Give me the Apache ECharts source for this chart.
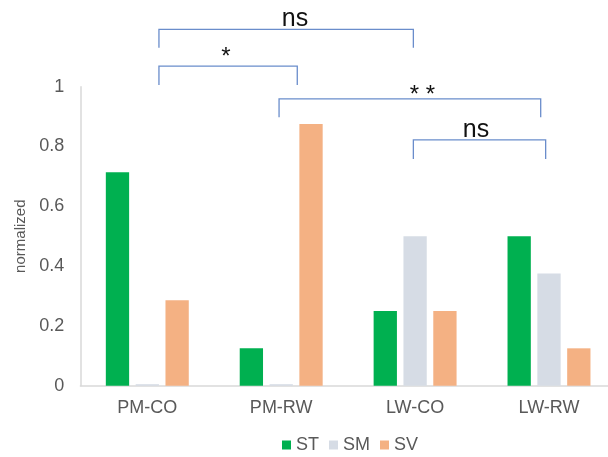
<!DOCTYPE html>
<html>
<head>
<meta charset="utf-8">
<script src="https://cdn.jsdelivr.net/npm/echarts@6/dist/echarts.min.js"></script>
<style>
html,body{margin:0;padding:0;background:#fff;}
#c{width:608px;height:457px;}
</style>
</head>
<body>
<div id="c"></div>
<script>
// ---- data ----
const categories = ['PM-CO', 'PM-RW', 'LW-CO', 'LW-RW'];
const seriesNames = ['ST', 'SM', 'SV'];
const stValues = [0.714, 0.125, 0.25, 0.5];
const smValues = [0.005, 0.005, 0.5, 0.375];
const svValues = [0.286, 0.875, 0.25, 0.125];
const yTicks = [0, 0.2, 0.4, 0.6, 0.8, 1];

// significance brackets (category-axis units for x, value-axis units for y)
const bracketLabels = ['ns', '*', '* *', 'ns'];
const bracketFrom = [0.087, 0.087, 0.984, 1.987];
const bracketTo = [1.987, 1.12, 2.938, 2.975];
const bracketLevel = [1.192, 1.069, 0.959, 0.822];
const bracketFoot = [1.130, 1.006, 0.898, 0.758];
const bracketLabelX = [1.103, 0.588, 2.054, 2.455];
const bracketLabelY = [1.226, 1.099, 0.972, 0.855];

const FONT = '"Liberation Sans", Arial, sans-serif';
const chart = echarts.init(document.getElementById('c'), null, {renderer: 'canvas'});

const colors = ['#00B050', '#D6DCE5', '#F4B183'];
const dataSets = [stValues, smValues, svValues];

chart.setOption({
  animation: false,
  backgroundColor: '#ffffff',
  textStyle: {fontFamily: FONT},
  grid: {left: 80.35, top: 86.7, width: 535.6, height: 299, containLabel: false, outerBoundsMode: 'none'},
  legend: {
    data: seriesNames,
    left: 282, top: 436,
    padding: 0,
    itemWidth: 9, itemHeight: 9, itemGap: 10,
    icon: 'rect',
    textStyle: {fontSize: 18, color: '#595959', fontFamily: FONT}
  },
  xAxis: {
    type: 'category',
    data: categories,
    axisTick: {show: false},
    axisLine: {show: true, lineStyle: {color: '#D9D9D9', width: 1.5}},
    axisLabel: {fontSize: 18, color: '#595959', margin: 13, fontFamily: FONT},
    splitLine: {show: false}
  },
  yAxis: {
    type: 'value',
    min: yTicks[0], max: yTicks[yTicks.length - 1], interval: 0.2,
    name: 'normalized',
    nameLocation: 'middle',
    nameRotate: 90,
    nameGap: 51,
    nameTextStyle: {fontSize: 15, color: '#595959', fontFamily: FONT},
    axisLine: {show: true, lineStyle: {color: '#D9D9D9', width: 1.5}},
    axisTick: {show: false},
    splitLine: {show: false},
    axisLabel: {fontSize: 18, color: '#595959', margin: 16, fontFamily: FONT}
  },
  series: seriesNames.map((n, i) => ({
    name: n,
    type: 'bar',
    data: dataSets[i],
    barWidth: 23.3,
    barGap: '28%',
    itemStyle: {color: colors[i]}
  }))
});

// brackets
const p0 = chart.convertToPixel({xAxisIndex: 0}, 0);
const p1 = chart.convertToPixel({xAxisIndex: 0}, 1);
const xPix = v => p0 + v * (p1 - p0);
const yPix = v => chart.convertToPixel({yAxisIndex: 0}, v);
const graphics = [];
const LINE = '#6A8DCB';
bracketLabels.forEach((lab, i) => {
  const x1 = xPix(bracketFrom[i]), x2 = xPix(bracketTo[i]);
  const yl = yPix(bracketLevel[i]), yf = yPix(bracketFoot[i]);
  graphics.push({
    type: 'polyline',
    shape: {points: [[x1, yf], [x1, yl], [x2, yl], [x2, yf]]},
    style: {stroke: LINE, lineWidth: 1.3, fill: null}
  });
  graphics.push({
    type: 'text',
    x: xPix(bracketLabelX[i]),
    y: yPix(bracketLabelY[i]),
    style: {
      text: lab,
      fontSize: lab === 'ns' ? 25 : 24,
      fontFamily: FONT,
      fill: '#111111',
      align: 'center',
      verticalAlign: 'middle'
    }
  });
});
chart.setOption({graphic: graphics});
</script>
</body>
</html>
